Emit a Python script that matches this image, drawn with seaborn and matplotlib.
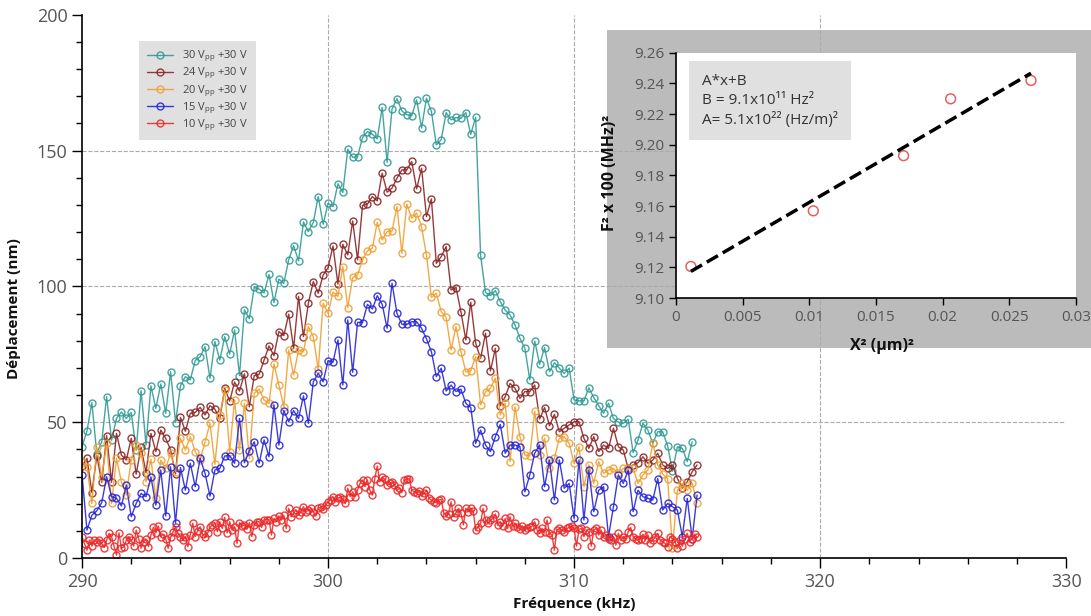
import numpy as np
import matplotlib
matplotlib.use("Agg")
import matplotlib.pyplot as plt
from matplotlib.patches import Rectangle
from matplotlib.ticker import MultipleLocator
import seaborn as sns

# frequency sweep (kHz)
f_start = 290.0
step_coarse = 0.2
step_fine = 0.1

# displacement (nm), one array per drive amplitude
d_30vpp = [41.0, 46.8, 57.2, 38.5, 42.8, 59.4, 43.4, 51.4, 53.8, 51.4,
           53.6, 39.7, 61.6, 41.6, 63.4, 55.1, 64.1, 53.3, 68.6, 49.9,
           63.4, 66.8, 65.6, 72.7, 74.1, 77.8, 66.2, 79.7, 72.9, 81.5,
           75.1, 84.0, 67.2, 91.4, 88.1, 99.8, 99.0, 97.6, 104.4, 94.1,
           102.7, 101.1, 109.8, 115.0, 109.4, 123.7, 120.2, 123.5, 133.1, 122.9,
           130.6, 129.4, 137.8, 134.6, 150.5, 147.5, 147.8, 154.8, 157.0, 156.0,
           154.3, 165.9, 145.7, 165.3, 169.1, 164.6, 163.2, 162.9, 168.7, 158.3,
           169.3, 164.4, 152.1, 154.0, 164.0, 161.3, 162.2, 161.9, 164.0, 156.0,
           162.3, 111.4, 97.8, 96.6, 98.5, 94.4, 91.3, 89.5, 85.8, 80.9,
           77.2, 65.6, 79.9, 71.3, 77.5, 68.6, 71.9, 69.9, 68.0, 69.9,
           58.2, 57.9, 57.8, 62.7, 59.1, 56.1, 53.3, 57.0, 51.4, 50.0,
           49.6, 51.1, 38.8, 43.5, 49.6, 47.1, 42.2, 46.5, 46.5, 41.4,
           32.0, 41.0, 40.4, 35.5, 42.8]

d_24vpp = [34.0, 36.7, 24.1, 37.7, 27.9, 45.1, 27.9, 45.9, 37.9, 36.1,
           44.1, 30.9, 40.8, 31.4, 45.9, 39.2, 47.1, 44.1, 39.8, 31.0,
           51.8, 46.7, 53.3, 53.6, 55.5, 52.7, 56.1, 54.8, 51.4, 62.5,
           57.8, 64.8, 61.5, 67.8, 55.7, 67.2, 67.7, 72.9, 78.1, 74.5,
           83.4, 81.9, 89.8, 77.2, 96.3, 81.5, 93.8, 101.8, 97.5, 104.2,
           106.9, 114.9, 100.9, 115.5, 111.6, 124.1, 109.8, 129.8, 130.3, 133.1,
           131.5, 141.7, 134.7, 136.2, 139.8, 142.9, 142.9, 146.0, 135.9, 143.5,
           125.7, 132.2, 108.5, 111.0, 114.7, 98.7, 99.6, 90.7, 80.3, 94.2,
           79.1, 73.5, 82.8, 68.9, 77.2, 56.1, 59.4, 64.3, 62.5, 58.8,
           61.3, 61.3, 63.7, 51.2, 55.4, 48.7, 52.9, 46.5, 47.8, 49.0,
           50.2, 50.2, 44.1, 40.4, 44.7, 39.2, 41.6, 40.4, 47.8, 41.0,
           39.8, 33.0, 34.3, 35.1, 37.3, 34.9, 36.1, 38.6, 34.3, 33.0,
           34.3, 29.3, 25.7, 28.1, 31.8, 34.3]

d_20vpp = [35.5, 33.6, 20.1, 40.8, 29.9, 42.2, 20.1, 36.7, 28.1, 23.2,
           36.1, 41.6, 38.6, 28.1, 36.3, 22.0, 36.1, 33.0, 38.6, 31.8,
           44.1, 39.8, 44.7, 39.2, 36.1, 42.8, 49.6, 34.5, 52.7, 61.9,
           39.2, 58.2, 39.8, 57.0, 36.7, 60.7, 62.2, 58.2, 57.0, 71.5,
           63.7, 55.7, 76.6, 67.4, 76.6, 76.0, 85.2, 81.5, 69.5, 93.8,
           90.1, 97.9, 96.3, 107.3, 92.2, 103.3, 104.2, 109.8, 113.1, 114.1,
           123.6, 117.1, 120.2, 120.4, 129.4, 112.2, 130.3, 125.1, 127.0, 122.0,
           111.6, 96.0, 97.5, 90.7, 88.6, 76.6, 85.2, 76.0, 68.6, 69.0,
           74.2, 56.4, 61.3, 62.5, 66.2, 52.7, 57.0, 35.5, 55.7, 44.7,
           37.9, 37.7, 54.1, 37.9, 44.1, 33.0, 36.7, 44.1, 44.7, 42.2,
           34.9, 41.0, 26.3, 34.3, 27.5, 35.5, 31.2, 32.4, 33.0, 31.2,
           33.0, 33.0, 33.0, 27.5, 30.6, 32.4, 42.2, 34.3, 31.0, 29.3,
           3.6, 25.0, 27.5, 25.0, 27.5, 20.3]

d_15vpp = [30.6, 10.3, 15.8, 17.4, 20.4, 29.9, 22.6, 22.0, 19.2, 26.9,
           15.2, 20.1, 23.8, 22.6, 29.9, 19.5, 32.4, 15.5, 33.6, 12.8,
           33.3, 25.0, 34.9, 26.3, 36.7, 31.2, 22.8, 32.4, 33.0, 37.6,
           37.7, 34.9, 51.4, 35.1, 39.5, 42.8, 34.9, 43.5, 37.3, 56.4,
           41.6, 54.3, 50.2, 54.3, 51.4, 59.7, 49.6, 64.9, 68.0, 64.9,
           72.7, 72.1, 80.3, 63.7, 87.7, 68.4, 86.8, 86.7, 93.4, 91.7,
           96.6, 93.4, 84.6, 101.2, 90.1, 86.1, 86.0, 87.0, 87.0, 84.6,
           80.7, 76.0, 66.8, 69.9, 61.5, 63.7, 61.3, 62.2, 57.0, 55.4,
           42.2, 47.1, 41.6, 39.2, 44.7, 49.2, 38.6, 41.6, 41.6, 41.0,
           24.4, 30.6, 38.6, 41.6, 26.3, 36.1, 21.4, 36.1, 25.7, 27.5,
           14.6, 36.1, 14.0, 32.4, 17.1, 25.0, 26.3, 7.9, 18.9, 30.6,
           27.5, 32.4, 17.1, 25.0, 22.6, 22.0, 21.4, 29.3, 17.7, 20.1,
           18.9, 17.7, 7.9, 22.0, 7.2, 23.2]

d_10vpp = [7.9, 5.2, 2.9, 6.6, 4.4, 6.6, 6.0, 6.6, 5.4, 3.9,
           6.6, 9.1, 7.9, 4.4, 1.1, 9.3, 3.6, 4.2, 6.6, 7.9,
           6.6, 4.4, 10.3, 7.2, 3.6, 6.0, 6.9, 4.2, 8.5, 11.3,
           9.3, 11.8, 7.9, 8.8, 7.2, 3.6, 7.6, 9.7, 11.5, 9.1,
           7.9, 6.6, 7.9, 4.2, 8.5, 12.8, 7.9, 10.1, 11.5, 8.8,
           7.6, 9.1, 11.3, 12.2, 12.8, 9.7, 13.4, 10.9, 15.0, 9.3,
           13.4, 10.3, 11.5, 5.4, 13.0, 11.8, 12.2, 10.6, 13.0, 7.9,
           12.2, 13.4, 13.4, 11.3, 14.0, 14.2, 14.2, 8.5, 14.6, 13.4,
           15.5, 14.0, 15.8, 10.9, 18.3, 15.2, 16.5, 17.7, 15.8, 17.1,
           18.9, 17.1, 17.7, 18.3, 17.1, 15.5, 18.3, 18.9, 17.9, 19.5,
           20.7, 21.4, 22.6, 20.7, 22.0, 22.6, 21.6, 20.1, 25.7, 22.6,
           24.4, 22.6, 25.0, 27.5, 28.7, 26.3, 28.7, 25.0, 23.2, 29.3,
           33.9, 28.1, 29.9, 29.0, 26.9, 27.5,
           28.1, 26.9, 25.0, 25.7, 24.1, 28.7, 29.0, 29.3, 25.0, 24.4,
           23.8, 24.8, 22.8, 23.8, 25.0, 22.0, 21.4, 20.7, 20.4, 21.4,
           21.6, 16.7, 15.5, 16.2, 20.7, 15.2, 16.7, 18.3, 16.7, 12.2,
           18.3, 17.1, 18.3, 17.4, 10.3, 11.5, 12.8, 18.3, 14.0, 12.8,
           14.0, 14.6, 16.2, 12.2, 13.4, 11.8, 14.6, 10.9, 15.2, 11.8,
           12.8, 11.3, 10.6, 11.8, 10.3, 10.9, 11.3, 11.8, 13.4, 10.3,
           9.1, 10.9, 9.7, 14.0, 9.1, 8.5, 2.9, 10.3, 10.9, 10.3,
           9.7, 10.9, 11.3, 11.8, 10.9, 4.4, 10.6, 10.9, 7.9, 10.3,
           9.7, 4.4, 10.3, 10.9, 8.5, 10.3, 7.9, 8.5, 7.2, 6.6,
           7.9, 4.8, 9.1, 6.6, 7.9, 7.2, 9.7, 11.3, 7.9, 6.9,
           6.6, 7.2, 8.8, 6.6, 8.5, 5.6, 6.6, 7.9, 9.1, 6.6,
           6.0, 5.4, 4.2, 7.9, 7.2, 6.0, 3.6, 6.6, 4.4, 7.2,
           9.1, 6.0, 7.2, 8.8, 7.6]

labels = ["30 V$_{pp}$ +30 V", "24 V$_{pp}$ +30 V", "20 V$_{pp}$ +30 V",
          "15 V$_{pp}$ +30 V", "10 V$_{pp}$ +30 V"]
colors = ["#319b95", "#8b2525", "#f0a032", "#2626d8", "#ec2a2a"]
steps = [step_coarse, step_coarse, step_coarse, step_coarse, step_fine]

# inset: squared amplitude vs squared frequency
x2_um2 = [0.00112, 0.0103, 0.01707, 0.0206, 0.02663]
f2_mhz2 = [9.1206, 9.1569, 9.1929, 9.2300, 9.2420]

sns.set_theme(style="ticks")
plt.rcParams["font.family"] = ["Open Sans", "DejaVu Sans"]
plt.rcParams["mathtext.default"] = "regular"

fig = plt.figure(figsize=(10.91, 6.16), dpi=100)
ax = fig.add_axes([0.0752, 0.094, 0.902, 0.882])

for vals, lab, col, st in zip([d_30vpp, d_24vpp, d_20vpp, d_15vpp, d_10vpp],
                              labels, colors, steps):
    freq = np.round(f_start + st * np.arange(len(vals)), 2)
    sns.lineplot(x=freq, y=vals, ax=ax, color=col, lw=1, marker="o",
                 markersize=5, mfc="none", mec=col, mew=1, alpha=0.9,
                 sort=False, estimator=None, label=lab)

ax.set_xlim(290, 330)
ax.set_ylim(0, 200)
ax.set_xticks(range(290, 331, 10))
ax.set_yticks(range(0, 201, 50))
ax.xaxis.set_minor_locator(MultipleLocator(2))
ax.yaxis.set_minor_locator(MultipleLocator(10))
ax.tick_params(which="major", length=7, width=1, color="black",
               labelcolor="#555555", labelsize=13, direction="out")
ax.tick_params(which="minor", length=4, width=1, color="black", direction="out")
for v in [300, 310, 320]:
    ax.axvline(v, ls="--", color="#aaaaaa", lw=0.8, zorder=0.5)
for v in [50, 100, 150]:
    ax.axhline(v, ls="--", color="#aaaaaa", lw=0.8, zorder=0.5)
ax.spines[["top", "right"]].set_visible(False)
for s in ["left", "bottom"]:
    ax.spines[s].set_color("black")
    ax.spines[s].set_linewidth(1.2)

ax.set_xlabel("Fréquence (kHz)", fontsize=11, fontweight="bold", color="#111111")
ax.set_ylabel("Déplacement (nm)", fontsize=11, fontweight="bold", color="#111111")
ax.xaxis.set_label_coords(0.5, -0.072)
ax.yaxis.set_label_coords(-0.062, 0.46)

leg = ax.legend(loc="upper left", bbox_to_anchor=(0.052, 0.962), fontsize=8,
                frameon=True, facecolor="#e0e0e0", edgecolor="none",
                framealpha=1, fancybox=False, handlelength=2.4,
                labelspacing=0.12, borderpad=0.7)
for t in leg.get_texts():
    t.set_color("#444444")

# gray panel behind the inset
ax.add_patch(Rectangle((0.5564, 0.435), 0.4436, 0.516, transform=fig.transFigure,
                       facecolor="#bbbbbb", edgecolor="none", zorder=0.3,
                       clip_on=False))

axin = fig.add_axes([0.6196, 0.5162, 0.3666, 0.398])
axin.set_zorder(3)
axin.set_facecolor("white")
sns.regplot(x=np.array(x2_um2), y=np.array(f2_mhz2), ax=axin, scatter=False,
            ci=None, truncate=True,
            line_kws=dict(color="black", ls="--", lw=2.5))
sns.scatterplot(x=x2_um2, y=f2_mhz2, ax=axin, s=50, marker="o", color="#e26060")
pts = axin.collections[-1]
pts.set_facecolor("none")
pts.set_edgecolor("#e26060")
pts.set_linewidth(1.1)

axin.set_xlim(0, 0.03)
axin.set_ylim(9.10, 9.26)
axin.set_xticks([0, 0.005, 0.01, 0.015, 0.02, 0.025, 0.03])
axin.set_xticklabels(["0", "0.005", "0.01", "0.015", "0.02", "0.025", "0.03"])
axin.set_yticks(np.round(np.arange(9.10, 9.261, 0.02), 2))
axin.set_yticklabels([f"{v:.2f}" for v in np.arange(9.10, 9.261, 0.02)])
axin.tick_params(length=5, width=1, color="black", labelcolor="#555555",
                 labelsize=11, direction="out")
axin.spines[["top", "right"]].set_visible(False)
for s in ["left", "bottom"]:
    axin.spines[s].set_color("black")
    axin.spines[s].set_linewidth(1.2)
axin.set_xlabel("X² (µm)²", fontsize=11.5, fontweight="bold", color="#111111")
axin.set_ylabel("F² x 100 (MHz)²", fontsize=11.5, fontweight="bold", color="#111111")
axin.xaxis.set_label_coords(0.515, -0.165)
axin.yaxis.set_label_coords(-0.145, 0.51)

axin.text(0.065, 0.915, "A*x+B\nB = 9.1x10¹¹ Hz²\nA= 5.1x10²² (Hz/m)²",
          transform=axin.transAxes, ha="left", va="top", fontsize=11,
          color="#333333", linespacing=1.35,
          bbox=dict(facecolor="#e0e0e0", edgecolor="none", pad=9))

fig.savefig("out.png", dpi=100)
